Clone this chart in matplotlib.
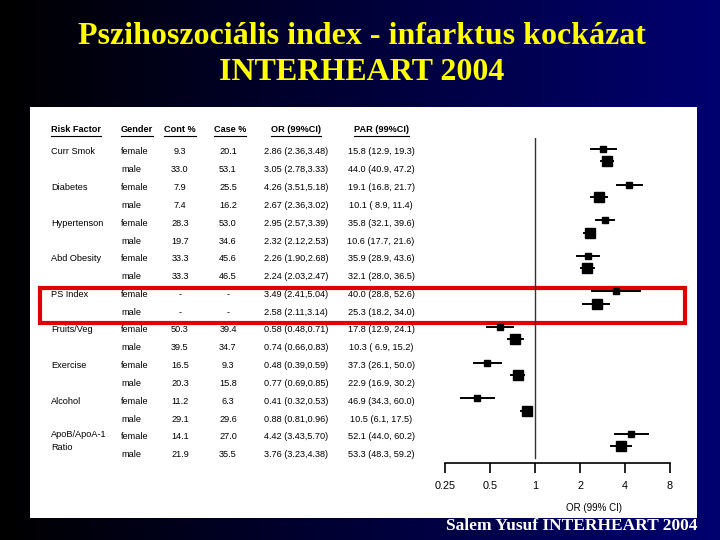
import numpy as np
import matplotlib.pyplot as plt
from matplotlib.patches import Rectangle

# table data (INTERHEART 2004)
risk_factors = ['Curr Smok', 'Diabetes', 'Hypertenson', 'Abd Obesity', 'PS Index',
                'Fruits/Veg', 'Exercise', 'Alcohol', 'ApoB/ApoA-1\nRatio']
genders = ['female', 'male']
cont_pct = ['9.3', '33.0', '7.9', '7.4', '28.3', '19.7', '33.3', '33.3', '-', '-',
            '50.3', '39.5', '16.5', '20.3', '11.2', '29.1', '14.1', '21.9']
case_pct = ['20.1', '53.1', '25.5', '16.2', '53.0', '34.6', '45.6', '46.5', '-', '-',
            '39.4', '34.7', '9.3', '15.8', '6.3', '29.6', '27.0', '35.5']
or_est = [2.86, 3.05, 4.26, 2.67, 2.95, 2.32, 2.26, 2.24, 3.49, 2.58,
          0.58, 0.74, 0.48, 0.77, 0.41, 0.88, 4.42, 3.76]
or_lo = [2.36, 2.78, 3.51, 2.36, 2.57, 2.12, 1.90, 2.03, 2.41, 2.11,
         0.48, 0.66, 0.39, 0.69, 0.32, 0.81, 3.43, 3.23]
or_hi = [3.48, 3.33, 5.18, 3.02, 3.39, 2.53, 2.68, 2.47, 5.04, 3.14,
         0.71, 0.83, 0.59, 0.85, 0.53, 0.96, 5.70, 4.38]
par_text = ['15.8 (12.9, 19.3)', '44.0 (40.9, 47.2)', '19.1 (16.8, 21.7)', '10.1 ( 8.9, 11.4)',
            '35.8 (32.1, 39.6)', '10.6 (17.7, 21.6)', '35.9 (28.9, 43.6)', '32.1 (28.0, 36.5)',
            '40.0 (28.8, 52.6)', '25.3 (18.2, 34.0)', '17.8 (12.9, 24.1)', '10.3 ( 6.9, 15.2)',
            '37.3 (26.1, 50.0)', '22.9 (16.9, 30.2)', '46.9 (34.3, 60.0)', '10.5 (6.1, 17.5)',
            '52.1 (44.0, 60.2)', '53.3 (48.3, 59.2)']
or_ticks = [0.25, 0.5, 1, 2, 4, 8]

W, H = 720, 540
fig = plt.figure(figsize=(7.2, 5.4), dpi=100)

# background axes in pixel coordinates
bg = fig.add_axes([0, 0, 1, 1], zorder=0)
bg.set_xlim(0, W)
bg.set_ylim(H, 0)
bg.axis('off')
grad = np.linspace(0, 1, 256).reshape(1, -1)
cmap = plt.matplotlib.colors.LinearSegmentedColormap.from_list('bgblue', ['#000000', '#000070'])
bg.imshow(grad, cmap=cmap, aspect='auto', extent=(0, W, H, 0))
bg.add_patch(Rectangle((30, 107), 667, 411, facecolor='white', edgecolor='none'))

# title + footer
tfont = dict(family='Liberation Serif', weight='bold', color='#ffff00', ha='center', va='center')
bg.text(362, 36, 'Pszihoszociális index - infarktus kockázat', fontsize=23, **tfont)
bg.text(362, 73, 'INTERHEART 2004', fontsize=23, **tfont)
bg.text(697, 526, 'Salem Yusuf INTERHEART 2004', fontsize=12.5, family='Liberation Serif',
        weight='bold', color='white', ha='right', va='center')

# table
fs = 6.6
row_y = [152 + i * 17.8 for i in range(18)]
headers = [('Risk Factor', 51, 'left'), ('Gender', 121, 'left'), ('Cont %', 180, 'center'),
           ('Case %', 230, 'center'), ('OR (99%CI)', 296, 'center'), ('PAR (99%CI)', 381, 'center')]
head_txt = []
for lab, x, ha in headers:
    head_txt.append(bg.text(x, 130, lab, fontsize=fs, weight='bold', ha=ha, va='center',
                            family='Liberation Sans'))

for g, rf in enumerate(risk_factors):
    y = row_y[2 * g] + (4 if '\n' in rf else 0)
    bg.text(51, y, rf, fontsize=fs, ha='left', va='center', family='Liberation Sans',
            linespacing=1.5)

for i in range(18):
    y = row_y[i]
    bg.text(121, y, genders[i % 2], fontsize=fs, ha='left', va='center', family='Liberation Sans')
    bg.text(180, y, cont_pct[i], fontsize=fs, ha='center', va='center', family='Liberation Sans')
    bg.text(228, y, case_pct[i], fontsize=fs, ha='center', va='center', family='Liberation Sans')
    bg.text(296, y, f'{or_est[i]:.2f} ({or_lo[i]:.2f},{or_hi[i]:.2f})', fontsize=fs,
            ha='center', va='center', family='Liberation Sans')
    bg.text(381, y, par_text[i], fontsize=fs, ha='center', va='center', family='Liberation Sans')

# red box round PS index
bg.add_patch(Rectangle((40, 288), 645, 35, facecolor='none', edgecolor='#e00000', lw=3, zorder=5))

# forest plot
fx0, fx1, fy0, fy1 = 445, 670, 138, 463
ax = fig.add_axes([fx0 / W, 1 - fy1 / H, (fx1 - fx0) / W, (fy1 - fy0) / H], zorder=1)
ax.patch.set_alpha(0)
ax.set_xscale('log', base=2)
ax.set_xlim(0.25, 8)
ax.set_ylim(8.82, -0.31)
for i in range(18):
    yy = i // 2 + 0.35 * (i % 2)
    ms = 4.4 if i % 2 == 0 else 7.2
    ax.plot([or_lo[i], or_hi[i]], [yy, yy], color='black', lw=1.4)
    ax.plot(or_est[i], yy, 's', color='black', ms=ms)
ax.axvline(1, ymin=0.015, ymax=1, color='#333333', lw=1)
for s in ['top', 'right', 'left']:
    ax.spines[s].set_visible(False)
ax.spines['bottom'].set_linewidth(1.2)
ax.set_yticks([])
ax.set_xticks(or_ticks)
ax.set_xticklabels(['0.25', '0.5', '1', '2', '4', '8'], fontsize=7.8, family='Liberation Sans')
ax.xaxis.set_minor_locator(plt.NullLocator())
ax.tick_params(axis='x', length=7, width=1.2, pad=6)
bg.text(594, 508, 'OR (99% CI)', fontsize=7, ha='center', va='center', family='Liberation Sans')

# underline headers
fig.canvas.draw()
inv = bg.transData.inverted()
for t in head_txt:
    bb = t.get_window_extent()
    (x0, y0), (x1, y1) = inv.transform([[bb.x0, bb.y0], [bb.x1, bb.y1]])
    bg.plot([x0, x1], [y0 + 1, y0 + 1], color='black', lw=0.8)

fig.savefig('out.png', dpi=100)
